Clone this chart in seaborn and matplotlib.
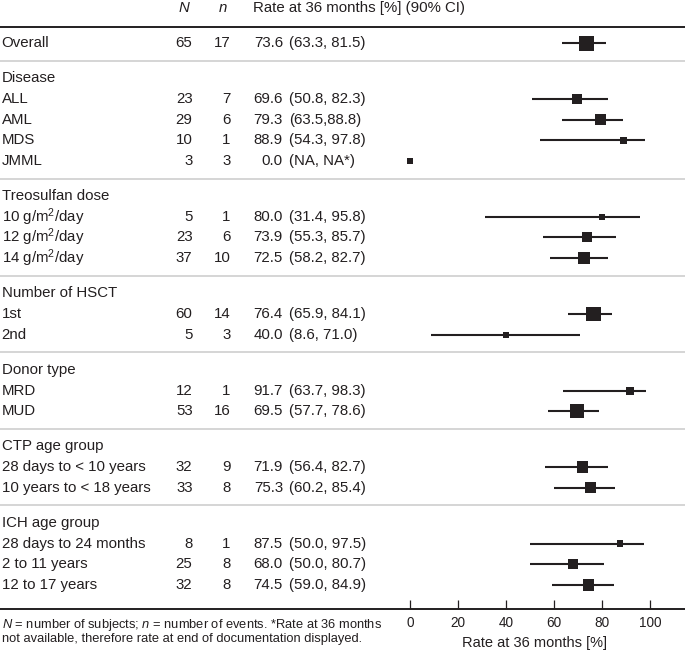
import numpy as np
import pandas as pd
import matplotlib
matplotlib.use("Agg")
import matplotlib.pyplot as plt
from matplotlib import transforms
import seaborn as sns

# ---------------- data ----------------
group_names = ["", "Disease", "Treosulfan dose", "Number of HSCT", "Donor type",
               "CTP age group", "ICH age group"]
row_group = [0, 1, 1, 1, 1, 2, 2, 2, 3, 3, 4, 4, 5, 5, 6, 6, 6]
labels = ["Overall", "ALL", "AML", "MDS", "JMML",
          r"10 g/m$^{2}$/day", r"12 g/m$^{2}$/day", r"14 g/m$^{2}$/day",
          "1st", "2nd", "MRD", "MUD",
          "28 days to < 10 years", "10 years to < 18 years",
          "28 days to 24 months", "2 to 11 years", "12 to 17 years"]
N_subj = [65, 23, 29, 10, 3, 5, 23, 37, 60, 5, 12, 53, 32, 33, 8, 25, 32]
n_events = [17, 7, 6, 1, 3, 1, 6, 10, 14, 3, 1, 16, 9, 8, 1, 8, 8]
rate = [73.6, 69.6, 79.3, 88.9, 0.0, 80.0, 73.9, 72.5, 76.4, 40.0, 91.7, 69.5,
        71.9, 75.3, 87.5, 68.0, 74.5]
ci_low = [63.3, 50.8, 63.5, 54.3, np.nan, 31.4, 55.3, 58.2, 65.9, 8.6, 63.7, 57.7,
          56.4, 60.2, 50.0, 50.0, 59.0]
ci_high = [81.5, 82.3, 88.8, 97.8, np.nan, 95.8, 85.7, 82.7, 84.1, 71.0, 98.3, 78.6,
           82.7, 85.4, 97.5, 80.7, 84.9]
ci_text = ["(63.3, 81.5)", "(50.8, 82.3)", "(63.5,88.8)", "(54.3, 97.8)", "(NA, NA*)",
           "(31.4, 95.8)", "(55.3, 85.7)", "(58.2, 82.7)", "(65.9, 84.1)", "(8.6, 71.0)",
           "(63.7, 98.3)", "(57.7, 78.6)", "(56.4, 82.7)", "(60.2, 85.4)",
           "(50.0, 97.5)", "(50.0, 80.7)", "(59.0, 84.9)"]
x_ticks = [0, 20, 40, 60, 80, 100]
x_label = "Rate at 36 months [%]"
header_rate = "Rate at 36 months [%] (90% CI)"
footnote1 = r"$N$ = number of subjects; $n$ = number of events. *Rate at 36 months"
footnote2 = "not available, therefore rate at end of documentation displayed."

# ---------------- style ----------------
sns.set_theme(style="white")
plt.rcParams["font.family"] = ["Liberation Sans", "DejaVu Sans"]
plt.rcParams["mathtext.fontset"] = "custom"
plt.rcParams["mathtext.rm"] = "Liberation Sans"
plt.rcParams["mathtext.it"] = "Liberation Sans:italic"
plt.rcParams["mathtext.bf"] = "Liberation Sans:bold"

INK = "#231f20"
SEP = "#d0d0d0"
FS = 10.8
W, H = 685, 652
PX0, PX_PER = 410.0, 2.4           # pixel of value 0, pixels per unit
GAP = 1.7                          # row units between groups

# ---------------- layout of rows ----------------
ypos, heads, seps = [], [], []
y, prev = 0.0, None
for g in row_group:
    if prev is None:
        ypos.append(y)
    elif g != prev:
        seps.append(y + GAP / 2)
        y += GAP
        heads.append((group_names[g], y))
        y += 1
        ypos.append(y)
    else:
        y += 1
        ypos.append(y)
    prev = g

df = pd.DataFrame({"label": labels, "N": N_subj, "n": n_events, "rate": rate,
                   "lo": ci_low, "hi": ci_high, "ci": ci_text, "y": ypos})

fig = plt.figure(figsize=(W / 100, H / 100), dpi=100)
ax_bottom = 43 / H
ax = fig.add_axes([0, ax_bottom, 1, 1 - ax_bottom])
ax.set_xlim(-PX0 / PX_PER, (W - PX0) / PX_PER)
last = ypos[-1]
ax.set_ylim(last + 1.16, -2.08)

# confidence intervals
ci = df.dropna(subset=["lo", "hi"])
ax.hlines(ci["y"], ci["lo"], ci["hi"], color=INK, lw=1.5, zorder=2)

# squares sized by N
side_px = {v: 2.65 + 1.53 * np.sqrt(v) for v in sorted(set(N_subj))}
sizes = {v: (s * 0.72) ** 2 for v, s in side_px.items()}
sns.scatterplot(data=df, x="rate", y="y", size="N", sizes=sizes, marker="s",
                color=INK, linewidth=0, legend=False, ax=ax, zorder=3)

# separators
ax.axhline(-0.77, color=INK, lw=1.4, zorder=1)
for s in seps:
    ax.axhline(s, color=SEP, lw=1.25, zorder=1)

# axis styling
sns.despine(ax=ax, left=True, top=True, right=True)
ax.spines["bottom"].set_color(INK)
ax.spines["bottom"].set_linewidth(1.4)
ax.set_xticks(x_ticks)
ax.set_yticks([])
ax.tick_params(axis="x", direction="in", length=6.5, width=0.9, color=INK,
               labelsize=9.8, labelcolor=INK, pad=5, bottom=True)
ax.set_xlabel("")
ax.set_ylabel("")

# table text
tr = transforms.blended_transform_factory(ax.transAxes, ax.transData)
def fx(px):
    return px / W

hy = -1.69
ax.text(fx(183.5), hy, "N", transform=tr, ha="center", va="center",
        fontsize=FS, style="italic", color=INK)
ax.text(fx(222.5), hy, "n", transform=tr, ha="center", va="center",
        fontsize=FS, style="italic", color=INK)
ax.text(fx(253), hy, header_rate, transform=tr, ha="left", va="center",
        fontsize=FS, color=INK)

for name, yh in heads:
    ax.text(fx(1.5), yh, name, transform=tr, ha="left", va="center",
            fontsize=FS, color=INK)

for _, r in df.iterrows():
    ax.text(fx(1.5), r["y"], r["label"], transform=tr, ha="left", va="center",
            fontsize=FS, color=INK)
    ax.text(fx(192.5), r["y"], f"{r['N']}", transform=tr, ha="right", va="center",
            fontsize=FS, color=INK)
    ax.text(fx(230.5), r["y"], f"{r['n']}", transform=tr, ha="right", va="center",
            fontsize=FS, color=INK)
    ax.text(fx(283), r["y"], f"{r['rate']:.1f}", transform=tr, ha="right",
            va="center", fontsize=FS, color=INK)
    ax.text(fx(289), r["y"], r["ci"], transform=tr, ha="left", va="center",
            fontsize=FS, color=INK)

# footnote and axis title
fig.text(2 / W, 1 - 625 / H, footnote1, ha="left", va="center", fontsize=9.3, color=INK)
fig.text(2 / W, 1 - 639 / H, footnote2, ha="left", va="center", fontsize=9.3, color=INK)
fig.text(535 / W, 1 - 643 / H, x_label, ha="center", va="center", fontsize=10.5, color=INK)

fig.savefig("out.png", dpi=100)
